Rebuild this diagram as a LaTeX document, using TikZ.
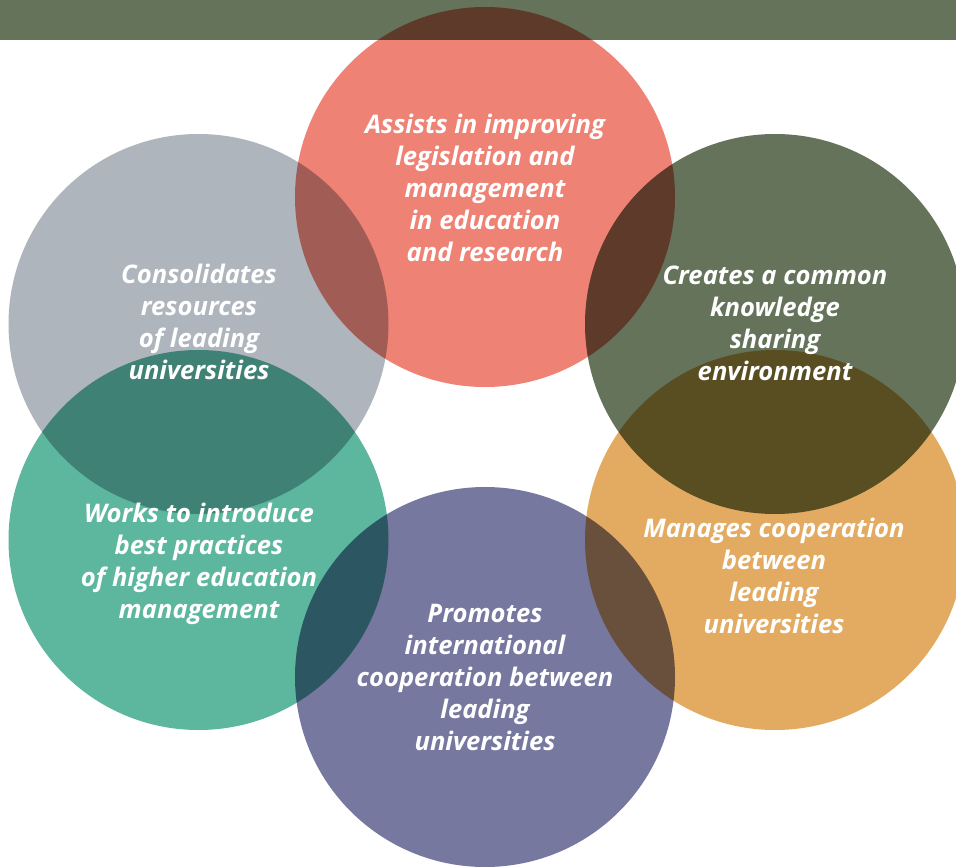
\documentclass[tikz,border=0pt]{standalone}
\usepackage{fontspec}
\setmainfont{Open Sans}
\definecolor{cred}{HTML}{EE8275}
\definecolor{cgray}{HTML}{AEB5BC}
\definecolor{cgreen}{HTML}{64735A}
\definecolor{cteal}{HTML}{5DB79E}
\definecolor{corange}{HTML}{E3AB62}
\definecolor{cpurple}{HTML}{77789F}
\tikzset{
  disc/.style={circle, minimum size=380pt, inner sep=0pt, blend mode=multiply},
  lbl/.style={text=white, align=center, inner sep=0pt,
    font=\fontsize{25.6}{32}\selectfont\bfseries\itshape}
}
\begin{document}
\begin{tikzpicture}[x=1pt,y=-1pt]
\useasboundingbox (0,0) rectangle (956,867);
\clip (0,0) rectangle (956,867);
\fill[white] (0,0) rectangle (956,867);
\begin{scope}[transparency group]
\fill[cgreen] (0,0) rectangle (956,40);
\node[disc, fill=cred]    (red)    at (485,197) {};
\node[disc, fill=cgray]   (gray)   at (198.5,324) {};
\node[disc, fill=cgreen]  (green)  at (775,324) {};
\node[disc, fill=cteal]   (teal)   at (198.5,540) {};
\node[disc, fill=corange] (orange) at (775,540) {};
\node[disc, fill=cpurple] (purple) at (485,677) {};
\end{scope}
\node[lbl] (tred) at (485,190.6) {\strut Assists in improving\\ \strut legislation and\\ \strut management\\ \strut in education\\ \strut and research};
\node[lbl] (tgray) at (199,324.6) {\strut Consolidates\\ \strut resources\\ \strut of leading\\ \strut universities};
\node[lbl] (tgreen) at (775,325.6) {\strut Creates a common\\ \strut knowledge\\ \strut sharing\\ \strut environment};
\node[lbl] (tteal) at (199,563.6) {\strut Works to introduce\\ \strut best practices\\ \strut of higher education\\ \strut management};
\node[lbl] (torange) at (774,578.6) {\strut Manages cooperation\\ \strut between\\ \strut leading\\ \strut universities};
\node[lbl] (tpurple) at (485,679.6) {\strut Promotes\\ \strut international\\ \strut cooperation between\\ \strut leading\\ \strut universities};
\end{tikzpicture}
\end{document}
